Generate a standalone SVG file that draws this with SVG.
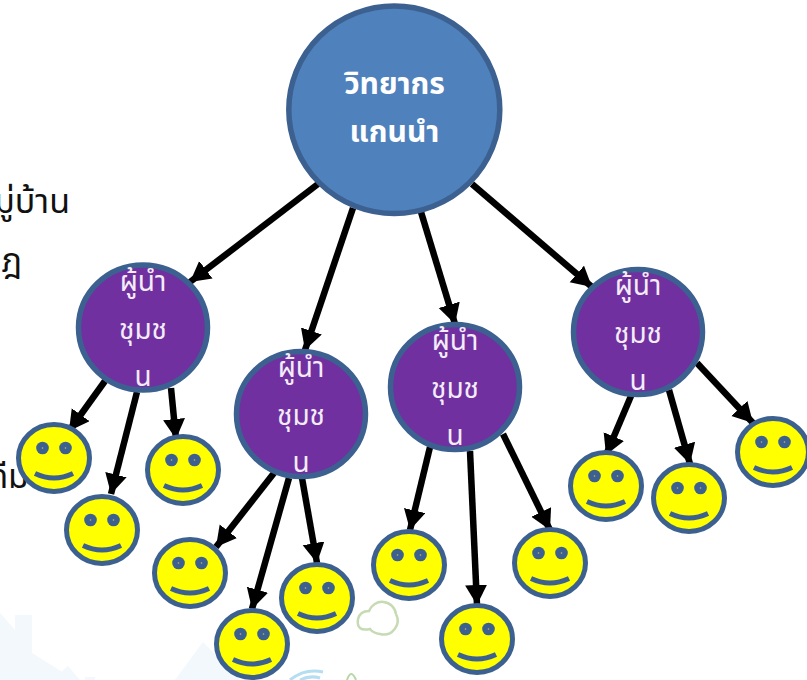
<svg xmlns="http://www.w3.org/2000/svg" width="807" height="680" viewBox="0 0 807 680">
<defs>
<marker id="ah" markerUnits="userSpaceOnUse" markerWidth="24" markerHeight="24" refX="20" refY="11" orient="auto"><path d="M0 0L20 11L0 22Z" fill="#000"/></marker>
<g id="smile">
<ellipse rx="35.5" ry="33.5" fill="#ffff00" stroke="#3c6190" stroke-width="5"/>
<circle cx="-11.500" cy="-10" r="6.300" fill="#3c6190"/><circle cx="11.500" cy="-10" r="6.300" fill="#3c6190"/>
<circle cx="-11.500" cy="-10" r="0.800" fill="#c9b84a"/><circle cx="11.500" cy="-10" r="0.800" fill="#c9b84a"/>
<path d="M-19 15.500Q0 24.500 19 15.500" fill="none" stroke="#3c6190" stroke-width="5"/>
</g>
<g id="leader">
<ellipse rx="64.500" ry="62.500" fill="#7030a0" stroke="#3c6190" stroke-width="5.500"/>
<text class="l" y="-37">ผู้นำ</text>
<text class="l" y="11">ชุมช</text>
<text class="l" y="58">น</text>
</g>
</defs>
<style>
.l{font:28px "Noto Sans Thai","Noto Sans","DejaVu Sans",sans-serif;fill:#f3ecf7;text-anchor:middle}
.m{font:bold 30px "Noto Sans Thai","Noto Sans","DejaVu Sans",sans-serif;fill:#fff;text-anchor:middle}
.b{font:34px "Noto Sans Thai","Noto Sans","DejaVu Sans",sans-serif;fill:#111;text-anchor:end}
.c line{stroke:#000;stroke-width:6.500;marker-end:url(#ah)}
</style>
<g id="background" fill="#f3f8fc">
<path d="M0 613L15 630V615H32V653L75 680H0Z"/><path d="M52 680L68 666L80 680Z"/><path d="M85 680V677H95V680Z"/><path d="M175 680L203 642L240 680Z"/>
<path d="M369 611a14 14 0 0 1 27 3a14 14 0 0 1-16 20q-7-1-10-5q-14 3-12-10q2-8 11-8Z" fill="none" stroke="#c6dab4" stroke-width="2.500"/>
<path d="M290 680Q305 668 323 672M300 680Q310 675 320 678" fill="none" stroke="#b5def2" stroke-width="3"/>
<path d="M347 680Q351 668 356 680" fill="none" stroke="#b5d9a5" stroke-width="2"/>
</g>
<g id="body-text">
<text class="b" x="70" y="213">หมู่บ้าน</text>
<text class="b" x="22" y="272">ฎ</text>
<text class="b" x="29" y="488">ทีม</text>
</g>
<g id="connectors" class="c">
<line x1="318" y1="184" x2="190" y2="282"/>
<line x1="353" y1="208" x2="305" y2="350"/>
<line x1="421" y1="212" x2="455" y2="324"/>
<line x1="472" y1="184" x2="592" y2="287"/>
<line x1="105" y1="381" x2="69" y2="431"/>
<line x1="137" y1="392" x2="111" y2="494"/>
<line x1="171" y1="388" x2="176" y2="439"/>
<line x1="274" y1="473" x2="216" y2="547"/>
<line x1="289" y1="478" x2="252" y2="609"/>
<line x1="302" y1="478" x2="317" y2="563"/>
<line x1="430" y1="447" x2="410" y2="530"/>
<line x1="470" y1="451" x2="477" y2="605"/>
<line x1="503" y1="434" x2="550" y2="530"/>
<line x1="631" y1="396" x2="606" y2="455"/>
<line x1="669" y1="390" x2="690" y2="464"/>
<line x1="697" y1="363" x2="753" y2="423"/>
</g>
<g id="root"><ellipse cx="394.300" cy="109.700" rx="105.500" ry="103.800" fill="#4f81bd" stroke="#3c6190" stroke-width="5.500"/>
<text class="m" x="394.500" y="94">วิทยากร</text><text class="m" x="394.500" y="142">แกนนำ</text></g>
<use id="leader-1" href="#leader" x="143" y="327.500"/>
<use id="leader-2" href="#leader" x="301" y="414"/>
<use id="leader-3" href="#leader" x="455" y="387"/>
<use id="leader-4" href="#leader" x="638" y="332"/>
<use id="face-1" href="#smile" x="54" y="458"/>
<use id="face-2" href="#smile" x="102" y="530"/>
<use id="face-3" href="#smile" x="183" y="470"/>
<use id="face-4" href="#smile" x="190" y="573"/>
<use id="face-5" href="#smile" x="252" y="644"/>
<use id="face-6" href="#smile" x="317" y="598"/>
<use id="face-7" href="#smile" x="409" y="565"/>
<use id="face-8" href="#smile" x="477" y="639"/>
<use id="face-9" href="#smile" x="550" y="563"/>
<use id="face-10" href="#smile" x="606" y="486"/>
<use id="face-11" href="#smile" x="689" y="498"/>
<use id="face-12" href="#smile" x="773" y="452"/>
</svg>
